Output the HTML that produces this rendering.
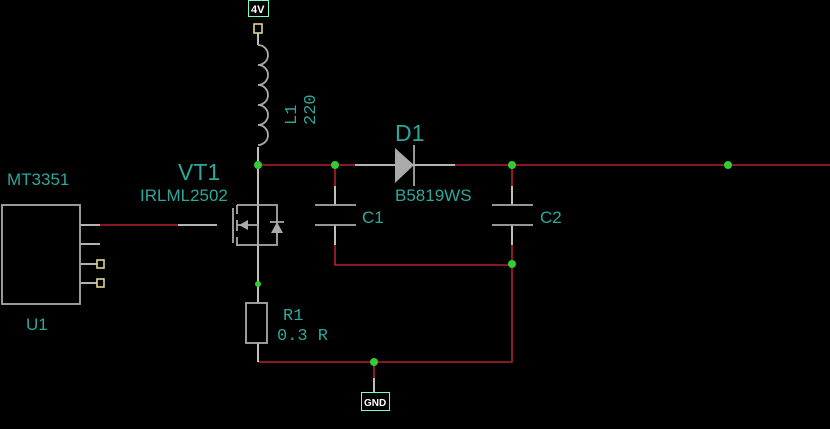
<!DOCTYPE html>
<html><head><style>html,body{margin:0;padding:0;background:#000;}svg{display:block}</style></head><body>
<svg width="830" height="429" viewBox="0 0 830 429" xmlns="http://www.w3.org/2000/svg" font-family="Liberation Sans, sans-serif">
<rect width="830" height="429" fill="#000"/>
<g stroke-width="1.6" fill="none">
<!-- red wires -->
<path d="M258 165H355 M455 165H830 M335 165V186 M512 165V186 M335 245V265H512 M512 245V362H258 M374 362V378 M100 225H178" stroke="#b3202a"/>
<!-- white wires -->
<path d="M258 33V45 M258 147V303 M258 343V362 M355 165H395 M413 165H455 M335 186V205 M335 225V245 M512 186V205 M512 225V245 M374 378V392 M80 225H100 M178 225H217 M80 244H100 M80 264H97 M80 283H97" stroke="#eee"/>
<!-- gray symbols -->
<g stroke="#aaa" stroke-width="1.8">
<rect x="2" y="205" width="78" height="99"/>
<path d="M258 45a10 10 0 0 1 0 20a10 10 0 0 1 0 20a10 10 0 0 1 0 20a10 10 0 0 1 0 20a10 10 0 0 1 0 20"/>
<path d="M315 205H356 M315 225H356 M492 205H533 M492 225H533"/>
<path d="M414 145V186"/>
<rect x="246" y="303" width="21" height="40"/>
<path d="M233 208V243 M237 205V214 M237 220V231 M237 237V246 M237 205H258 M237 245H258 M237 225H258 V245 M258 205H277V245H258 M270 222H284"/>
</g>
<polygon points="395,148 414,165 395,183" fill="#aaa"/>
<polygon points="239,225 248,220 248,230" fill="#aaa"/>
<polygon points="277,222 271,233 283,233" fill="#aaa"/>
<!-- yellow pins -->
<rect x="254" y="24" width="8" height="9" stroke="#ddd890"/>
<rect x="97" y="260" width="7" height="8" stroke="#ddd890"/>
<rect x="97" y="279" width="7" height="8" stroke="#ddd890"/>
<!-- port boxes -->
<rect x="248.5" y="0.5" width="20" height="16" stroke="#7fc" stroke-width="1"/>
<rect x="361.5" y="392.5" width="28" height="18" stroke="#7fc" stroke-width="1"/>
</g>
<!-- junctions -->
<g fill="#3c3">
<circle cx="258" cy="165" r="4"/><circle cx="335" cy="165" r="4"/><circle cx="512" cy="165" r="4"/><circle cx="728" cy="165" r="4"/>
<circle cx="512" cy="264" r="4"/><circle cx="374" cy="362" r="4"/><circle cx="258" cy="284" r="3"/>
</g>
<g fill="#fff" font-weight="bold" font-size="11">
<text x="251" y="13">4V</text>
<text x="364" y="406" font-size="10">GND</text>
</g>
<g fill="#2ea79b" font-size="17">
<text x="7" y="185">MT3351</text>
<text x="26" y="330">U1</text>
<text x="178" y="180" font-size="23">VT1</text>
<text x="140" y="201">IRLML2502</text>
<text x="395" y="141" font-size="23">D1</text>
<text x="395" y="201">B5819WS</text>
<text x="362" y="223">C1</text>
<text x="540" y="223">C2</text>
<text x="283" y="320" font-family="Liberation Mono, monospace">R1</text>
<text x="277" y="340" font-family="Liberation Mono, monospace">0.3 R</text>
<text transform="translate(296,125) rotate(-90)" font-family="Liberation Mono, monospace">L1</text>
<text transform="translate(315,125) rotate(-90)" font-family="Liberation Mono, monospace">220</text>
</g>
</svg>
</body></html>
